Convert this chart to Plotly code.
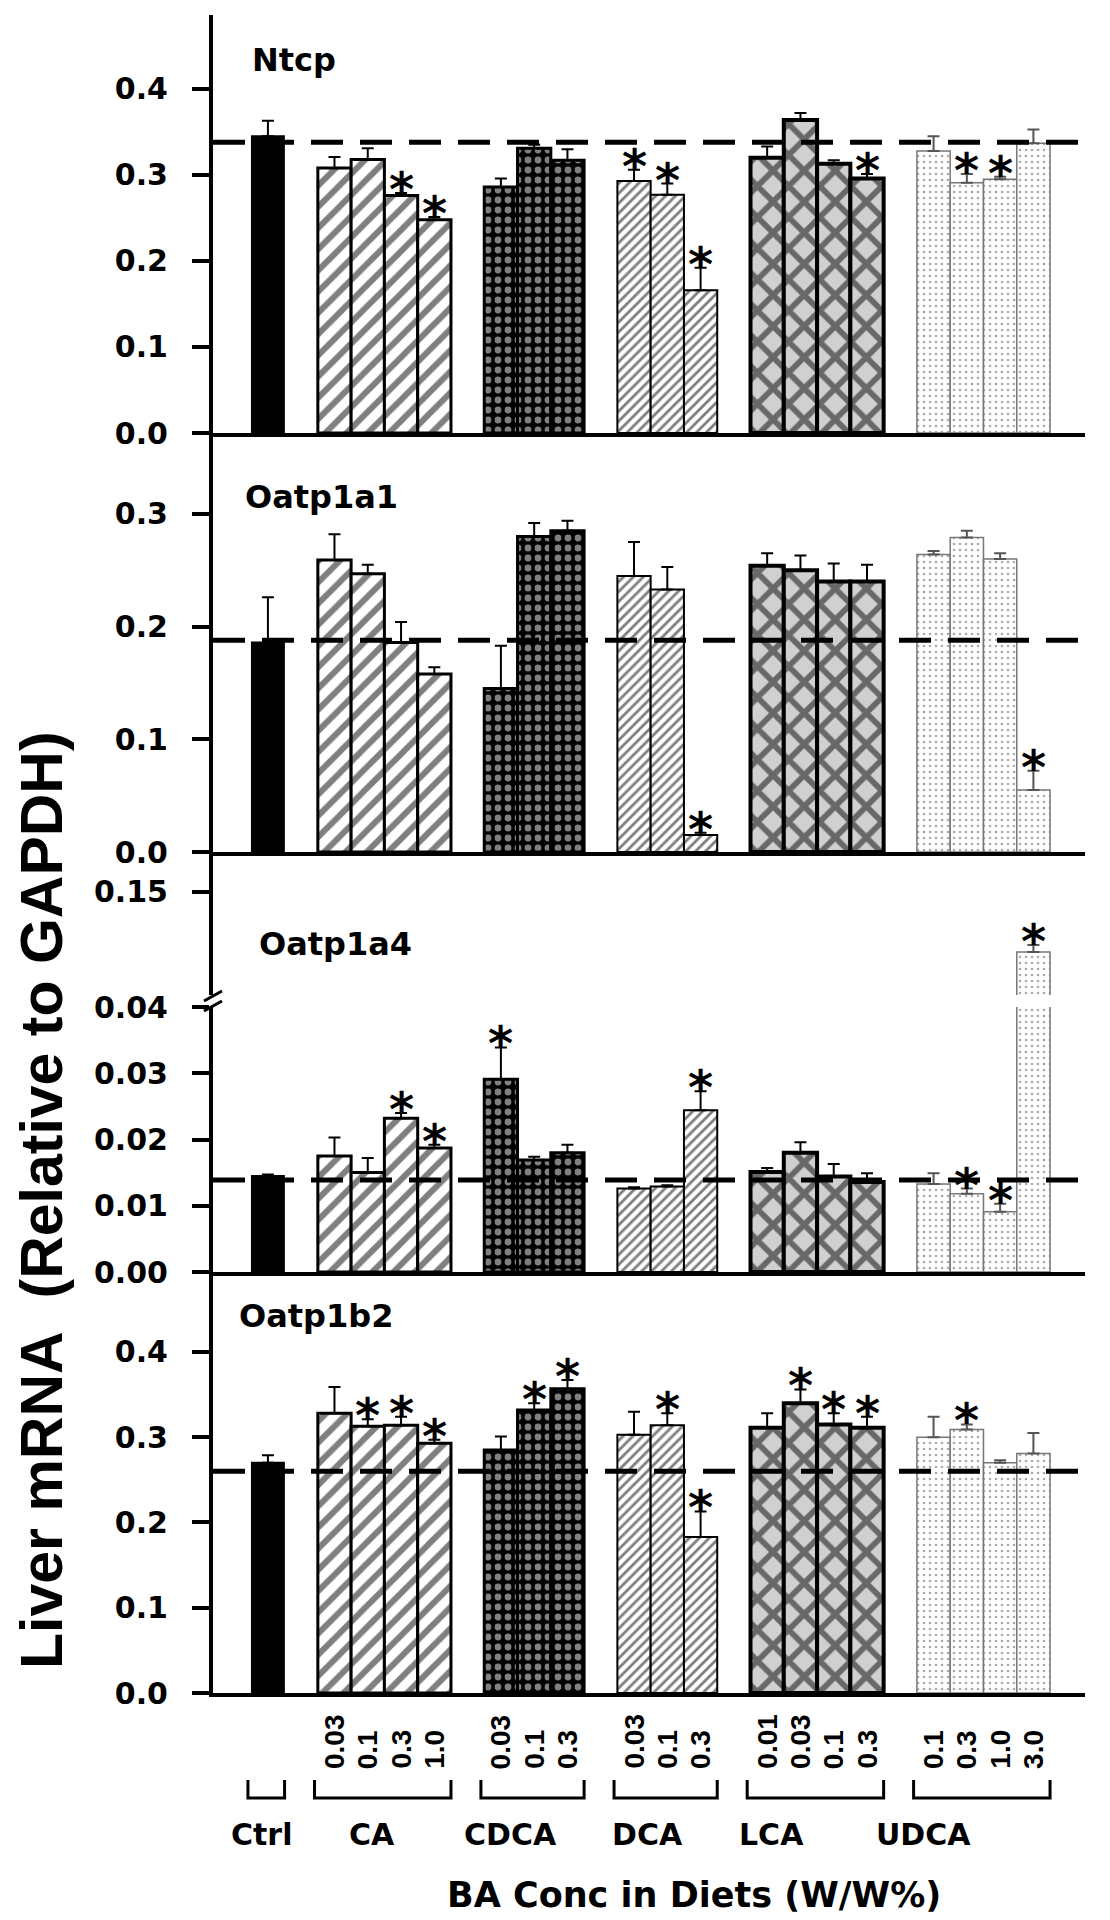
import plotly.graph_objects as go

# ---------------- data ----------------
groups = ["Ctrl", "CA", "CDCA", "DCA", "LCA", "UDCA"]
concs = [[""], ["0.03", "0.1", "0.3", "1.0"], ["0.03", "0.1", "0.3"],
         ["0.03", "0.1", "0.3"], ["0.01", "0.03", "0.1", "0.3"], ["0.1", "0.3", "1.0", "3.0"]]

genes = ["Ntcp", "Oatp1a1", "Oatp1a4", "Oatp1b2"]

ntcp_mean = [0.345, 0.308, 0.318, 0.276, 0.248, 0.286, 0.331, 0.317, 0.293, 0.277, 0.166,
             0.320, 0.364, 0.313, 0.296, 0.328, 0.291, 0.295, 0.337]
ntcp_err = [0.018, 0.013, 0.013, 0.003, 0.003, 0.010, 0.004, 0.013, 0.013, 0.013, 0.026,
            0.013, 0.008, 0.004, 0.005, 0.017, 0.010, 0.003, 0.016]
ntcp_star = [0, 0, 0, 1, 1, 0, 0, 0, 1, 1, 1, 0, 0, 0, 1, 0, 1, 1, 0]
ntcp_ref = 0.338

oatp1a1_mean = [0.186, 0.259, 0.247, 0.186, 0.158, 0.145, 0.280, 0.285, 0.245, 0.233, 0.015,
                0.254, 0.250, 0.240, 0.240, 0.264, 0.279, 0.260, 0.055]
oatp1a1_err = [0.040, 0.023, 0.008, 0.018, 0.006, 0.038, 0.012, 0.009, 0.030, 0.020, 0.002,
               0.011, 0.013, 0.016, 0.015, 0.003, 0.006, 0.005, 0.017]
oatp1a1_star = [0, 0, 0, 0, 0, 0, 0, 0, 0, 0, 1, 0, 0, 0, 0, 0, 0, 0, 1]
oatp1a1_ref = 0.188

oatp1a4_mean = [0.0145, 0.0175, 0.0150, 0.0232, 0.0187, 0.0291, 0.0169, 0.0180, 0.0126, 0.0129,
                0.0244, 0.0151, 0.0180, 0.0144, 0.0136, 0.0133, 0.0118, 0.0091, 0.1267]
oatp1a4_err = [0.0002, 0.0028, 0.0022, 0.0008, 0.0005, 0.0048, 0.0005, 0.0012, 0.0002, 0.0002,
               0.0029, 0.0006, 0.0016, 0.0019, 0.0013, 0.0016, 0.0008, 0.0012, 0.0027]
oatp1a4_star = [0, 0, 0, 1, 1, 1, 0, 0, 0, 0, 1, 0, 0, 0, 0, 0, 1, 1, 1]
oatp1a4_ref = 0.0139

oatp1b2_mean = [0.270, 0.328, 0.313, 0.314, 0.293, 0.285, 0.332, 0.357, 0.303, 0.314, 0.183,
                0.311, 0.340, 0.315, 0.311, 0.300, 0.309, 0.270, 0.281]
oatp1b2_err = [0.009, 0.031, 0.008, 0.010, 0.004, 0.016, 0.008, 0.010, 0.027, 0.014, 0.030,
               0.017, 0.016, 0.013, 0.013, 0.024, 0.006, 0.003, 0.024]
oatp1b2_star = [0, 0, 1, 1, 1, 0, 1, 1, 0, 1, 1, 0, 1, 1, 1, 0, 1, 0, 0]
oatp1b2_ref = 0.260

gene_data = [
    (ntcp_mean, ntcp_err, ntcp_star, ntcp_ref),
    (oatp1a1_mean, oatp1a1_err, oatp1a1_star, oatp1a1_ref),
    (oatp1a4_mean, oatp1a4_err, oatp1a4_star, oatp1a4_ref),
    (oatp1b2_mean, oatp1b2_err, oatp1b2_star, oatp1b2_ref),
]

# ---------------- layout helpers ----------------
W, H = 1110, 1920
ML, MR = 213, 25
PW = W - ML - MR


def px_x(px):
    return (px - ML) / PW


def px_y(py):
    return 1 - py / H


XR = [-1.65, 24.55]

# category slot positions (one empty slot between groups)
slots, group_slots = [], []
s = 0
for c in concs:
    g = list(range(s, s + len(c)))
    group_slots.append(g)
    slots += g
    s += len(c) + 1

panels = [
    dict(id=1, gene=0, top=15, bot=433, rng=[0, 0.486], ticks=[0, 0.1, 0.2, 0.3, 0.4], fmt="{:.1f}", xline=True),
    dict(id=2, gene=1, top=433, bot=852, rng=[0, 0.3718], ticks=[0, 0.1, 0.2, 0.3], fmt="{:.1f}", xline=True),
    dict(id=3, gene=2, top=852, bot=995, rng=[0.11, 0.1655], ticks=[0.15], fmt="{:.2f}", xline=False),
    dict(id=4, gene=2, top=1007, bot=1272, rng=[0, 0.04], ticks=[0, 0.01, 0.02, 0.03, 0.04], fmt="{:.2f}", xline=True),
    dict(id=5, gene=3, top=1272, bot=1693, rng=[0, 0.4938], ticks=[0, 0.1, 0.2, 0.3, 0.4], fmt="{:.1f}", xline=True),
]

styles = {
    "Ctrl": dict(bg="black", fg="black", shape="", size=8, sol=0.3, lc="black", lw=2, width=0.96, ec="black"),
    "CA": dict(bg="white", fg="black", shape="/", size=15, sol=0.4, lc="black", lw=3, width=1.0, ec="black"),
    "CDCA": dict(bg="black", fg="white", shape=".", size=10, sol=0.36, lc="black", lw=3, width=1.0, ec="black"),
    "DCA": dict(bg="white", fg="black", shape="/", size=7, sol=0.4, lc="black", lw=2, width=1.0, ec="black"),
    "LCA": dict(bg="#d0d0d0", fg="black", shape="x", size=22, sol=0.45, lc="black", lw=4, width=1.0, ec="black"),
    "UDCA": dict(bg="white", fg="#555555", shape=".", size=6, sol=0.15, lc="#777777", lw=1.5, width=1.0, ec="#555555"),
}

FH = "DejaVu Sans"       # wide bold face for horizontal text
FR = "Liberation Sans"   # Arial-like face for rotated text

fig = go.Figure()
layout = dict(width=W, height=H, margin=dict(l=ML, r=MR, t=0, b=0, autoexpand=False),
              plot_bgcolor="white", paper_bgcolor="white", barmode="overlay",
              showlegend=False)
shapes, annotations = [], []

for p in panels:
    i = p["id"]
    means, errs, stars, ref = gene_data[p["gene"]]
    xa = "x" if i == 1 else f"x{i}"
    ya = "y" if i == 1 else f"y{i}"
    idx = 0
    for gname, gs in zip(groups, group_slots):
        st = styles[gname]
        n = len(gs)
        ym = means[idx:idx + n]
        ye = errs[idx:idx + n]
        if i == 4:  # lower part of broken axis: no caps for bars beyond the break
            ye = [e if m < p["rng"][1] else 0 for m, e in zip(ym, ye)]
        fig.add_trace(go.Bar(
            x=gs, y=ym, xaxis=xa, yaxis=ya, width=st["width"],
            marker=dict(color=st["bg"], line=dict(color=st["lc"], width=st["lw"]),
                        pattern=dict(shape=st["shape"], fgcolor=st["fg"], bgcolor=st["bg"],
                                     size=st["size"], solidity=st["sol"])),
            error_y=dict(type="data", symmetric=False, array=ye, arrayminus=[0] * n,
                         color=st["ec"], thickness=2, width=6),
            hoverinfo="skip"))
        idx += n

    lay_x = "xaxis" if i == 1 else f"xaxis{i}"
    lay_y = "yaxis" if i == 1 else f"yaxis{i}"
    layout[lay_x] = dict(domain=[0, 1], range=XR, anchor=ya,
                         showline=p["xline"], linecolor="black", linewidth=4,
                         showticklabels=False, ticks="", showgrid=False, zeroline=False, fixedrange=True)
    layout[lay_y] = dict(domain=[px_y(p["bot"]), px_y(p["top"])], range=p["rng"], anchor=xa,
                         showline=True, linecolor="black", linewidth=4,
                         tickmode="array", tickvals=p["ticks"],
                         ticktext=[p["fmt"].format(t) for t in p["ticks"]],
                         ticks="outside", ticklen=17, tickwidth=4, tickcolor="black",
                         ticklabelstandoff=18,
                         tickfont=dict(family=FH, size=30, color="black", weight="bold"),
                         showgrid=False, zeroline=False, fixedrange=True)

    # dashed control reference line
    if i != 3:
        shapes.append(dict(type="line", xref=f"{xa} domain", yref=ya, x0=0, x1=1, y0=ref, y1=ref,
                           line=dict(color="black", width=5, dash="32px,17px"), layer="above"))

# significance stars
for gi, (means, errs, stars, ref) in enumerate(gene_data):
    for k, (m, e, st) in enumerate(zip(means, errs, stars)):
        if not st:
            continue
        top = m + e
        if gi == 0:
            pid = 1
        elif gi == 1:
            pid = 2
        elif gi == 2:
            pid = 3 if top > 0.04 else 4
        else:
            pid = 5
        annotations.append(dict(x=slots[k], y=top, xref=f"x{pid}" if pid > 1 else "x",
                                yref=f"y{pid}" if pid > 1 else "y", text="*", showarrow=False,
                                xanchor="center", yanchor="middle", yshift=4,
                                font=dict(family=FH, size=48, color="black", weight="bold")))

# gene names
gene_pos = [(250, 60), (243, 497), (257, 944), (237, 1316)]
for g, (gx, gy) in zip(genes, gene_pos):
    annotations.append(dict(x=px_x(gx), y=px_y(gy), xref="paper", yref="paper", text=g,
                            showarrow=False, xanchor="left", yanchor="middle",
                            font=dict(family=FH, size=32, color="black", weight="bold")))

# concentration labels (rotated) under each bar
all_concs = [c for cs in concs for c in cs]
for sl, c in zip(slots, all_concs):
    if c:
        annotations.append(dict(x=sl, y=px_y(1771), xref="x5", yref="paper", text=c, textangle=-90,
                                showarrow=False, xanchor="center", yanchor="bottom",
                                font=dict(family=FR, size=28, color="black", weight="bold")))

# brackets and group names
GROUP_LABEL_SHIFT = [-6, -12, -24, -20, -46, -60]
for gname, gs, sh in zip(groups, group_slots, GROUP_LABEL_SHIFT):
    x0, x1 = gs[0] - 0.6, gs[-1] + 0.5
    ya0, ya1 = px_y(1780), px_y(1798)
    shapes.append(dict(type="path", xref="x5", yref="paper",
                       path=f"M {x0},{ya0} L {x0},{ya1} L {x1},{ya1} L {x1},{ya0}",
                       line=dict(color="black", width=3)))
    annotations.append(dict(x=(gs[0] + gs[-1]) / 2, y=px_y(1834), xref="x5", yref="paper", text=gname,
                            showarrow=False, xanchor="center", yanchor="middle", xshift=sh,
                            font=dict(family=FH, size=30, color="black", weight="bold")))

# axis titles
annotations.append(dict(x=px_x(694), y=px_y(1895), xref="paper", yref="paper",
                        text="BA Conc in Diets (W/W%)", showarrow=False,
                        xanchor="center", yanchor="middle",
                        font=dict(family=FH, size=35, color="black", weight="bold")))
annotations.append(dict(x=px_x(42), y=px_y(1200), xref="paper", yref="paper",
                        text="Liver mRNA\u00a0\u00a0(Relative to GAPDH)", textangle=-90, showarrow=False,
                        xanchor="center", yanchor="middle",
                        font=dict(family=FR, size=59, color="black", weight="bold")))

# axis-break marks on the y axis
for yb in (996, 1006):
    shapes.append(dict(type="line", xref="paper", yref="paper",
                       x0=px_x(204), x1=px_x(222), y0=px_y(yb + 5), y1=px_y(yb - 5),
                       line=dict(color="black", width=3)))

layout["shapes"] = shapes
layout["annotations"] = annotations
fig.update_layout(**layout)
fig.write_html("out.html", config={"displayModeBar": False},
               post_script="document.body.style.margin='0px';")
